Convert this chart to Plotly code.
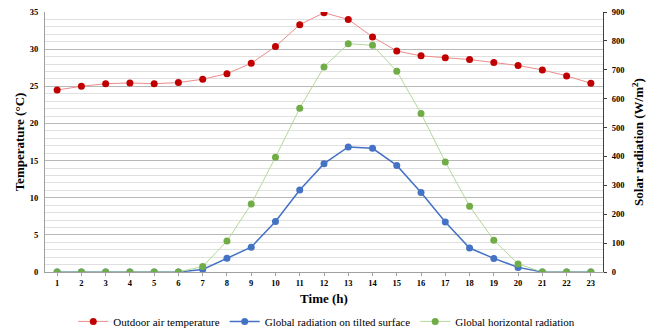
import plotly.graph_objects as go

hours = list(range(1, 24))
temperature = [24.5, 25.0, 25.35, 25.45, 25.35, 25.5, 25.95, 26.7, 28.1, 30.35, 33.3, 34.9,
               34.0, 31.65, 29.75, 29.1, 28.85, 28.6, 28.2, 27.8, 27.2, 26.4, 25.4]
tilted = [0, 0, 0, 0, 0, 0, 9, 48, 86, 175, 284, 375, 433, 428, 369, 275, 173, 83, 47, 16, 0, 0, 0]
horizontal = [0, 0, 0, 0, 0, 0, 19, 107, 235, 397, 567, 710, 790, 785, 695, 549, 381, 228, 110, 28, 0, 0, 0]

FONT = "Liberation Serif"

fig = go.Figure()
fig.add_trace(go.Scatter(
    x=hours, y=temperature, name="Outdoor air temperature", mode="lines+markers",
    line=dict(color="#eb8c8c", width=1), marker=dict(color="#c00000", size=7), yaxis="y"))
fig.add_trace(go.Scatter(
    x=hours, y=tilted, name="Global radiation on tilted surface", mode="lines+markers",
    line=dict(color="#4472c4", width=1.5), marker=dict(color="#4472c4", size=7), yaxis="y2"))
fig.add_trace(go.Scatter(
    x=hours, y=horizontal, name="Global horizontal radiation", mode="lines+markers",
    line=dict(color="#b4d89c", width=1), marker=dict(color="#70ad47", size=7), yaxis="y2"))

fig.update_layout(
    width=653, height=330,
    margin=dict(l=45, r=50, t=12, b=58, autoexpand=False),
    plot_bgcolor="white", paper_bgcolor="white",
    font=dict(family=FONT, color="black", size=11),
    showlegend=True,
    legend=dict(orientation="h", x=0.505, xanchor="center", y=-0.19, yanchor="middle",
                font=dict(family=FONT, size=11, color="black"),
                tracegroupgap=0),
    xaxis=dict(
        range=[0.5, 23.5], tickmode="array", tickvals=hours, ticktext=[str(h) for h in hours],
        showline=True, linecolor="#a0a0a0", linewidth=1, ticks="outside", ticklen=3,
        tickcolor="#a0a0a0", showgrid=False, zeroline=False,
        tickfont=dict(family=FONT, size=8.5, color="black", weight="bold"),
        title=dict(text="<b>Time (h)</b>", font=dict(family=FONT, size=13), standoff=6),
    ),
    yaxis=dict(
        range=[0, 35], dtick=5, showline=True, linecolor="#a0a0a0", linewidth=1,
        showgrid=True, gridcolor="#b8b8b8", gridwidth=1, zeroline=False,
        minor=dict(dtick=1, showgrid=True, gridcolor="#e0e0e0", gridwidth=1),
        ticklabelstandoff=4,
        tickfont=dict(family=FONT, size=8.5, color="black", weight="bold"),
        title=dict(text="<b>Temperature (°C)</b>", font=dict(family=FONT, size=13), standoff=2),
    ),
    yaxis2=dict(
        range=[0, 900], dtick=100, overlaying="y", side="right",
        showline=True, linecolor="#404040", linewidth=1, showgrid=False, zeroline=False,
        ticks="outside", ticklen=3, tickcolor="#404040", ticklabelstandoff=3,
        tickfont=dict(family=FONT, size=8.5, color="black", weight="bold"),
        title=dict(text="<b>Solar radiation (W/m<sup>2</sup>)</b>", font=dict(family=FONT, size=13), standoff=10),
    ),
)

fig.write_html("out.html")
